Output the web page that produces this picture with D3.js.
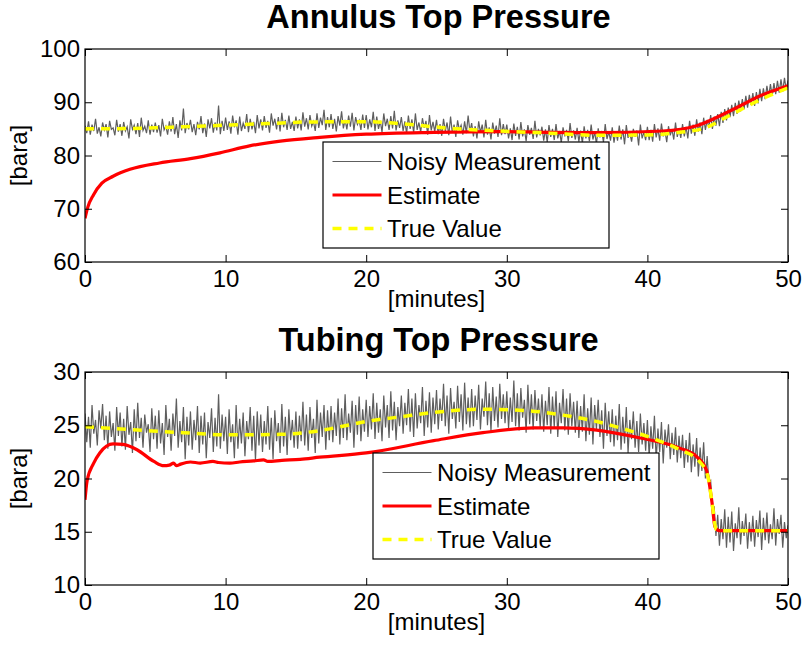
<html>
<head>
<style>
    body { margin: 0; background: #fff; }
    text { font-family: "Liberation Sans", Arial, sans-serif; fill: #000; }
</style>
</head>
<body>
<svg id="chart" width="804" height="647"></svg>
<script src="https://d3js.org/d3.v7.min.js"></script>
<script>
// ---- data ----
const xTicks = [0, 10, 20, 30, 40, 50]
const legendLabels = ["Noisy Measurement", "Estimate", "True Value"]

// sample step of the measurement series, minutes
const sampleStep = 0.125

// Annulus top pressure [bara]
const annulusNoisy = [
  85.6, 84.2, 86.4, 83.9, 85.8, 84.6, 86.9, 84.1, 85.3, 83.6, 86.2, 84.8, 85.9, 83.4, 86.5, 84.9, 85.2, 83.8, 86.7, 84.5,
  85.9, 83.7, 86.3, 84.6, 85.4, 83.2, 86.8, 84.9, 85.7, 84.0, 86.1, 83.5, 87.1, 84.7, 85.5, 84.2, 86.6, 83.9, 85.8, 84.4,
  86.2, 84.3, 85.7, 83.6, 86.9, 84.8, 85.5, 83.9, 86.4, 84.5, 87.2, 84.0, 85.9, 83.3, 86.6, 84.7, 88.8, 84.2, 86.1, 84.9,
  86.7, 84.4, 85.9, 83.8, 86.3, 84.9, 87.4, 84.2, 86.0, 83.5, 86.8, 85.1, 87.0, 84.3, 86.2, 84.7, 89.4, 84.0, 86.5, 84.6,
  87.1, 84.8, 86.4, 84.1, 87.5, 85.3, 86.6, 83.9, 87.3, 84.6, 86.1, 85.0, 87.8, 84.4, 86.9, 84.9, 86.3, 84.2, 87.6, 85.1,
  86.8, 84.7, 87.4, 85.2, 86.5, 84.3, 87.9, 85.6, 86.9, 84.9, 87.2, 84.5, 88.0, 85.3, 86.7, 84.8, 87.5, 85.0, 86.3, 84.6,
  87.3, 85.1, 86.8, 84.7, 88.1, 85.4, 87.0, 84.9, 87.6, 85.5, 86.4, 84.6, 87.9, 85.2, 87.1, 85.7, 88.6, 84.8, 87.2, 85.3,
  87.8, 85.0, 86.9, 84.5, 87.4, 85.6, 88.3, 85.1, 86.7, 84.9, 87.5, 85.4, 88.0, 84.7, 87.2, 85.8, 86.6, 84.8, 87.7, 85.2,
  87.6, 84.9, 86.8, 85.3, 88.2, 84.6, 87.3, 85.0, 86.5, 84.4, 87.9, 85.5, 86.9, 84.8, 87.4, 85.1, 88.4, 84.7, 86.6, 85.2,
  87.2, 84.6, 86.4, 84.1, 87.5, 85.0, 86.8, 84.3, 87.9, 84.8, 86.2, 84.4, 87.0, 85.2, 86.5, 83.9, 87.6, 84.7, 86.3, 84.5,
  86.7, 84.0, 85.9, 83.7, 86.9, 84.6, 86.2, 83.8, 87.3, 84.3, 85.8, 83.5, 86.6, 84.8, 85.7, 83.9, 86.4, 84.2, 87.5, 84.5,
  86.1, 83.6, 85.5, 83.2, 86.4, 84.3, 85.8, 83.4, 86.7, 83.9, 85.3, 83.0, 86.2, 84.1, 85.6, 83.5, 87.0, 83.8, 85.9, 84.0,
  85.8, 83.2, 85.1, 82.9, 86.0, 83.7, 85.4, 83.0, 86.3, 83.6, 84.9, 82.7, 85.7, 83.9, 85.2, 83.1, 86.5, 83.4, 85.0, 83.8,
  85.4, 82.8, 84.9, 82.5, 85.7, 83.5, 85.0, 82.9, 85.9, 83.2, 84.6, 82.4, 85.3, 83.6, 84.8, 82.7, 86.1, 83.3, 84.7, 83.0,
  85.2, 82.6, 84.7, 82.3, 85.5, 83.2, 84.8, 82.7, 85.8, 83.0, 84.4, 82.2, 85.1, 83.4, 84.6, 82.5, 85.9, 83.1, 84.5, 82.8,
  85.3, 82.4, 84.6, 82.8, 85.6, 83.0, 84.9, 82.1, 85.7, 83.3, 84.3, 82.6, 85.0, 83.5, 84.7, 81.9, 85.8, 83.2, 84.4, 82.9,
  85.4, 82.9, 84.8, 82.6, 85.9, 83.4, 85.1, 82.8, 86.0, 83.6, 84.6, 82.5, 85.5, 83.8, 84.9, 83.0, 86.2, 83.5, 85.0, 83.3,
  85.9, 83.6, 85.4, 83.2, 86.5, 84.1, 85.8, 83.7, 86.8, 84.5, 86.2, 84.0, 87.1, 84.8, 86.7, 85.2, 87.6, 85.0, 87.3, 85.6,
  87.8, 85.5, 88.2, 86.1, 88.7, 86.6, 89.0, 87.2, 89.5, 87.4, 89.9, 87.8, 90.3, 88.3, 90.6, 88.7, 91.2, 89.0, 91.4, 89.5,
  91.7, 89.3, 91.9, 89.8, 92.5, 90.2, 92.6, 90.6, 93.1, 91.0, 93.4, 91.2, 93.6, 91.5, 94.0, 91.8, 94.3, 92.0, 94.6, 92.3,
  94.1
]
const annulusTrueT = [0, 3, 5, 7, 10, 13, 16, 20, 22.4, 26, 29.5, 33, 36.4, 40, 42.3, 44, 45.9, 48.2, 50]
const annulusTrueV = [85.0, 85.05, 85.2, 85.4, 85.7, 86.0, 86.3, 86.35, 86.0, 85.1, 84.6, 84.2, 83.8, 83.85, 84.35, 85.1, 87.6, 90.7, 92.7]
const annulusEstT = [0, 0.2, 0.6, 1.2, 2, 3.2, 5.3, 7.5, 9.6, 11.7, 13.9, 16.7, 20, 24.8, 29.5, 33, 36.4, 41.1, 43.5, 45.9, 48.2, 50]
const annulusEstV = [68.2, 70.3, 72.6, 74.8, 76.1, 77.4, 78.6, 79.4, 80.5, 81.8, 82.7, 83.4, 84.0, 84.35, 84.5, 84.35, 84.3, 84.6, 85.6, 88.4, 91.4, 93.1]
const annulusYTicks = [60, 70, 80, 90, 100]

// Tubing top pressure [bara]
const tubingNoisy = [
  26.1, 23.4, 25.8, 22.9, 26.9, 24.2, 25.5, 23.1, 26.4, 24.7, 27.0, 23.6, 25.9, 22.8, 26.3, 23.9, 25.2, 22.6, 26.7, 24.0,
  26.2, 23.0, 25.6, 22.7, 26.8, 24.1, 25.3, 22.4, 26.5, 23.5, 27.1, 23.8, 25.7, 22.9, 26.0, 24.3, 25.1, 22.5, 26.6, 23.7,
  25.9, 22.8, 26.4, 23.3, 25.2, 22.2, 26.9, 23.9, 25.6, 22.6, 26.1, 24.0, 27.5, 22.9, 25.4, 23.4, 26.7, 21.8, 25.8, 23.1,
  26.3, 22.7, 25.5, 23.6, 26.8, 22.4, 25.9, 23.2, 26.2, 21.9, 25.3, 23.8, 26.6, 22.5, 25.7, 23.0, 27.9, 22.8, 26.0, 23.5,
  25.8, 22.3, 26.5, 23.4, 25.1, 21.9, 26.9, 22.8, 25.6, 23.3, 26.2, 22.1, 25.4, 23.7, 26.7, 22.6, 25.9, 21.7, 26.3, 23.1,
  26.0, 22.5, 25.4, 23.2, 26.8, 22.7, 25.7, 21.8, 26.4, 23.5, 25.2, 22.4, 27.0, 23.0, 25.8, 22.2, 26.5, 23.6, 25.5, 22.9,
  26.3, 22.8, 25.9, 23.5, 27.2, 23.1, 26.0, 22.6, 26.7, 23.8, 25.6, 22.4, 27.4, 23.3, 26.2, 23.9, 26.9, 22.7, 26.4, 23.6,
  26.8, 23.4, 26.2, 24.0, 27.5, 23.2, 26.6, 23.8, 27.9, 23.6, 26.1, 24.3, 27.3, 22.9, 26.9, 24.1, 27.7, 23.5, 26.5, 24.4,
  27.4, 23.9, 26.8, 24.6, 28.0, 23.7, 27.1, 24.3, 26.5, 23.5, 27.8, 24.8, 26.9, 23.8, 28.2, 24.5, 27.2, 23.6, 26.7, 24.9,
  27.8, 24.2, 27.1, 25.0, 28.4, 24.4, 27.5, 23.9, 28.0, 24.7, 26.9, 25.2, 28.6, 24.0, 27.3, 24.8, 28.1, 24.3, 27.6, 25.1,
  28.3, 24.6, 27.5, 25.4, 28.9, 24.9, 27.8, 24.2, 28.5, 25.6, 27.2, 24.7, 28.7, 25.3, 27.9, 24.5, 29.0, 25.1, 27.6, 24.8,
  28.4, 24.9, 27.8, 25.5, 28.8, 24.6, 27.5, 25.8, 29.1, 25.0, 28.0, 24.4, 28.6, 25.4, 27.7, 24.8, 28.9, 25.6, 27.9, 25.2,
  28.2, 24.7, 27.6, 25.3, 29.2, 24.9, 28.0, 24.5, 28.5, 25.7, 27.4, 24.3, 28.8, 25.1, 27.9, 24.6, 28.3, 25.4, 27.5, 24.8,
  27.9, 24.4, 27.3, 25.0, 28.6, 24.2, 27.7, 24.8, 28.2, 23.9, 27.1, 25.2, 28.4, 24.5, 27.5, 24.1, 28.0, 24.9, 27.2, 24.3,
  27.3, 23.8, 26.8, 24.4, 27.9, 23.5, 26.6, 24.1, 27.6, 23.2, 26.9, 24.6, 27.4, 23.9, 26.4, 22.8, 27.1, 24.0, 26.3, 23.4,
  26.5, 23.0, 25.9, 23.6, 27.0, 22.7, 25.8, 23.3, 26.7, 22.4, 25.5, 23.7, 26.3, 22.9, 25.4, 22.5, 26.1, 23.2, 25.2, 22.6,
  25.5, 22.1, 24.9, 22.8, 25.9, 21.7, 24.7, 22.5, 25.3, 21.4, 24.6, 22.9, 25.1, 21.8, 24.3, 22.2, 24.8, 21.5, 24.0, 21.9,
  24.1, 21.0, 23.6, 21.5, 24.3, 20.6, 23.2, 21.1, 23.8, 20.2, 22.9, 20.7, 23.4, 20.0, 22.1, 19.6, 19.8, 17.0, 17.4, 14.6,
  16.6, 13.7, 16.2, 14.3, 17.1, 13.5, 16.4, 14.0, 16.9, 13.2, 15.8, 14.4, 17.3, 13.8, 16.0, 14.6, 16.7, 13.4, 15.9, 14.1,
  16.5, 13.6, 16.1, 14.5, 17.0, 13.3, 16.3, 14.2, 16.8, 13.9, 15.7, 14.3, 17.2, 13.7, 16.2, 14.8, 16.6, 13.5, 15.9, 14.4,
  15.6
]
const tubingTrueT = [0, 2, 4.4, 7, 10.3, 13.9, 16.7, 18.5, 20, 22.5, 24.8, 28.3, 31.6, 34, 36.4, 38.2, 40, 42.3, 43.7, 44.3, 44.6, 44.9, 45.2, 50]
const tubingTrueV = [24.85, 24.7, 24.5, 24.3, 24.1, 24.15, 24.5, 24.95, 25.35, 25.8, 26.2, 26.5, 26.35, 25.95, 25.35, 24.7, 23.95, 22.7, 21.6, 20.2, 17.7, 15.2, 15.1, 15.1]
const tubingEstT = [0, 0.15, 0.6, 1.05, 2, 2.7, 3.7, 4.9, 5.6, 6.0, 6.3, 6.5, 6.8, 7.5, 8.2, 9.1, 9.5, 10.3, 11, 12, 12.7, 13, 14, 15.3, 16.7, 20, 24.8, 28.3, 31.9, 34, 36.4, 39.5, 42.3, 43.5, 44.2, 44.6, 44.8, 45.1, 50]
const tubingEstV = [18.0, 19.8, 21.4, 22.4, 23.25, 23.2, 22.7, 21.6, 21.2, 21.25, 21.45, 21.2, 21.35, 21.55, 21.45, 21.6, 21.5, 21.45, 21.55, 21.65, 21.75, 21.6, 21.7, 21.8, 22.0, 22.4, 23.55, 24.3, 24.75, 24.75, 24.55, 23.8, 22.85, 22.05, 20.8, 17.7, 15.5, 15.1, 15.1]
const tubingYTicks = [10, 15, 20, 25, 30]

// ---- layout ----
const svg = d3.select("#chart")
const plotLeft = 85, plotWidth = 703, plotHeight = 213
const colors = { noisy: "#5e5e5e", est: "#ff0000", truth: "#ffff00" }

const panels = [
  { title: "Annulus Top Pressure", top: 49, yDomain: [60, 100], yTicks: annulusYTicks,
    noisy: annulusNoisy, trueT: annulusTrueT, trueV: annulusTrueV, estT: annulusEstT, estV: annulusEstV,
    legendX: 238, legendY: 93 },
  { title: "Tubing Top Pressure", top: 372, yDomain: [10, 30], yTicks: tubingYTicks,
    noisy: tubingNoisy, trueT: tubingTrueT, trueV: tubingTrueV, estT: tubingEstT, estV: tubingEstV,
    legendX: 288, legendY: 81 }
]

panels.forEach((p, i) => {
  let g = svg.append("g").attr("transform", "translate(" + plotLeft + "," + p.top + ")")

  let x = d3.scaleLinear().domain([0, 50]).range([0, plotWidth])
  let y = d3.scaleLinear().domain(p.yDomain).range([plotHeight, 0])

  g.append("clipPath").attr("id", "clip" + i)
    .append("rect").attr("width", plotWidth).attr("height", plotHeight)

  // series
  let noisyPts = p.noisy.map((v, k) => [k * sampleStep, v])
  let truePts = p.trueT.map((t, k) => [t, p.trueV[k]])
  let estPts = p.estT.map((t, k) => [t, p.estV[k]])

  let straight = d3.line().x(d => x(d[0])).y(d => y(d[1]))
  let smooth = d3.line().curve(d3.curveMonotoneX).x(d => x(d[0])).y(d => y(d[1]))

  let lines = g.append("g").attr("clip-path", "url(#clip" + i + ")")
  lines.append("path").datum(noisyPts).attr("d", straight)
    .attr("fill", "none").attr("stroke", colors.noisy).attr("stroke-width", 1.2)
  lines.append("path").datum(estPts).attr("d", smooth)
    .attr("fill", "none").attr("stroke", colors.est).attr("stroke-width", 3.2)
  lines.append("path").datum(truePts).attr("d", smooth)
    .attr("fill", "none").attr("stroke", colors.truth).attr("stroke-width", 3.5)
    .attr("stroke-dasharray", "9,7")

  // axes, ticks pointing inward on all four sides
  g.append("g").attr("transform", "translate(0," + plotHeight + ")")
    .call(d3.axisBottom(x).tickValues(xTicks).tickSize(-7).tickSizeOuter(0).tickPadding(8))
  g.append("g")
    .call(d3.axisTop(x).tickValues(xTicks).tickSize(-7).tickSizeOuter(0).tickFormat(""))
  g.append("g")
    .call(d3.axisLeft(y).tickValues(p.yTicks).tickSize(-7).tickSizeOuter(0).tickPadding(5))
  g.append("g").attr("transform", "translate(" + plotWidth + ",0)")
    .call(d3.axisRight(y).tickValues(p.yTicks).tickSize(-7).tickSizeOuter(0).tickFormat(""))

  g.selectAll(".domain").remove()
  g.selectAll(".tick line").attr("stroke", "#000").attr("stroke-width", 1)
  g.selectAll(".tick text").attr("font-size", "24px").attr("fill", "#000")
    .attr("font-family", '"Liberation Sans", Arial, sans-serif')

  g.append("rect").attr("width", plotWidth).attr("height", plotHeight)
    .attr("fill", "none").attr("stroke", "#000").attr("stroke-width", 1.2)

  // titles and labels
  g.append("text").attr("x", plotWidth / 2 + 2).attr("y", -21)
    .attr("text-anchor", "middle").attr("font-size", "32.5px").attr("font-weight", "bold")
    .text(p.title)
  g.append("text").attr("x", plotWidth / 2).attr("y", plotHeight + 45)
    .attr("text-anchor", "middle").attr("font-size", "24px")
    .text("[minutes]")
  g.append("text").attr("transform", "rotate(-90)")
    .attr("x", -plotHeight / 2).attr("y", -58)
    .attr("text-anchor", "middle").attr("font-size", "24px")
    .text("[bara]")

  // legend
  let lg = g.append("g").attr("transform", "translate(" + p.legendX + "," + p.legendY + ")")
  lg.append("rect").attr("width", 286).attr("height", 106)
    .attr("fill", "#fff").attr("stroke", "#000").attr("stroke-width", 1.2)
  let rows = [19.5, 53, 86.5]
  let styles = [
    { c: colors.noisy, w: 1, dash: null },
    { c: colors.est, w: 3.2, dash: null },
    { c: colors.truth, w: 3.5, dash: "9,7" }
  ]
  legendLabels.forEach((lab, k) => {
    lg.append("line").attr("x1", 9.5).attr("x2", 58.5).attr("y1", rows[k]).attr("y2", rows[k])
      .attr("stroke", styles[k].c).attr("stroke-width", styles[k].w)
      .attr("stroke-dasharray", styles[k].dash)
    lg.append("text").attr("x", 64).attr("y", rows[k] + 8.5)
      .attr("font-size", "24px").text(lab)
  })
})
</script>
</body>
</html>
